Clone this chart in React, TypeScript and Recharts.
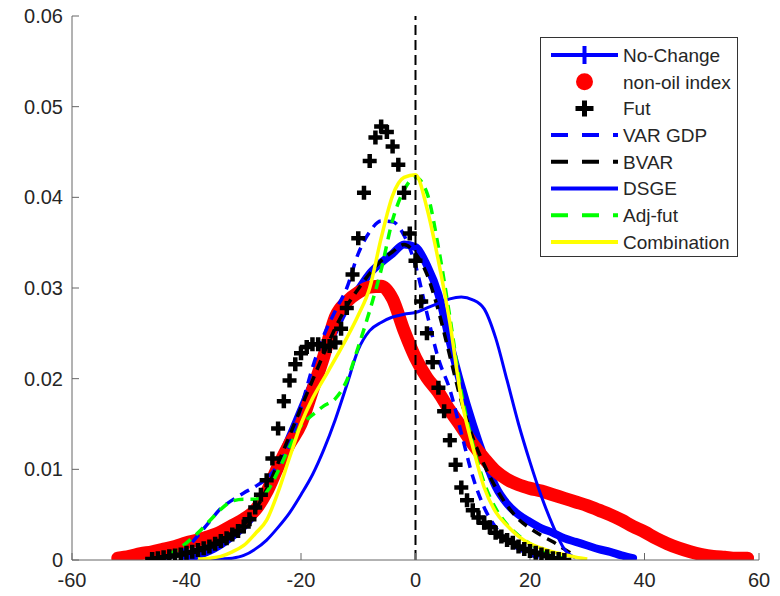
import { LineChart, Line, XAxis, YAxis, ReferenceLine, Legend } from 'recharts';

const xTicks = [-60, -40, -20, 0, 20, 40, 60];
const yTicks = [0, 0.01, 0.02, 0.03, 0.04, 0.05, 0.06];

// density estimates (x step 2 unless noted)
const noChangeStart = -40;
const noChange = [0.0002, 0.0005, 0.001, 0.0017, 0.0026, 0.0037, 0.0052, 0.0075, 0.0105, 0.0135, 0.0165, 0.0195, 0.0225, 0.0255, 0.028, 0.0298, 0.0316, 0.0328, 0.0338, 0.0348, 0.0345, 0.0325, 0.0293, 0.024, 0.0192, 0.015, 0.0113, 0.0081, 0.0062, 0.005, 0.0042, 0.0035, 0.003, 0.0024, 0.002, 0.0016, 0.0012, 0.0009, 0.0005, 0.0002];

const nonOilStart = -52;
const nonOil = [0.0002, 0.0004, 0.0007, 0.0009, 0.0012, 0.0015, 0.0019, 0.0022, 0.0026, 0.0031, 0.0038, 0.0045, 0.0055, 0.0075, 0.0103, 0.0128, 0.015, 0.0187, 0.0225, 0.0268, 0.0285, 0.0295, 0.0301, 0.0302, 0.0288, 0.0253, 0.0223, 0.0201, 0.0185, 0.0165, 0.0147, 0.0128, 0.0112, 0.0098, 0.0089, 0.0083, 0.0079, 0.0076, 0.0072, 0.0068, 0.0064, 0.006, 0.0055, 0.005, 0.0044, 0.0037, 0.0031, 0.0024, 0.0018, 0.0013, 0.0009, 0.0006, 0.0004, 0.0003, 0.0002, 0.0002];

// Fut is plotted with markers only, x step 1
const futStart = -46;
const fut = [0.0001, 0.0002, 0.0003, 0.0004, 0.0005, 0.0006, 0.0008, 0.0009, 0.0011, 0.0013, 0.0015, 0.0018, 0.0021, 0.0024, 0.0028, 0.0032, 0.0037, 0.0045, 0.0058, 0.0072, 0.0088, 0.0112, 0.0145, 0.0175, 0.0198, 0.0216, 0.0228, 0.0235, 0.0238, 0.0238, 0.0236, 0.0236, 0.024, 0.0255, 0.0278, 0.0315, 0.0355, 0.0405, 0.044, 0.0466, 0.0478, 0.0472, 0.0456, 0.0436, 0.0405, 0.036, 0.033, 0.0285, 0.025, 0.0218, 0.019, 0.0164, 0.0132, 0.0105, 0.008, 0.0066, 0.0055, 0.0047, 0.0041, 0.0036, 0.003, 0.0026, 0.0022, 0.0019, 0.0015, 0.0012, 0.001, 0.0008, 0.0006, 0.0004, 0.0002, 0.0001, 0];

const varGdpStart = -44;
const varGdp = [0.0001, 0.0005, 0.0013, 0.0027, 0.0042, 0.0057, 0.0066, 0.0074, 0.0081, 0.009, 0.0105, 0.0128, 0.0168, 0.0212, 0.0248, 0.0275, 0.03, 0.0338, 0.0362, 0.0374, 0.0373, 0.0358, 0.0325, 0.0272, 0.0222, 0.0188, 0.014, 0.0092, 0.0058, 0.0036, 0.0021, 0.0012, 0.0006, 0.0002, 0];

const bvarStart = -46;
const bvar = [0.0001, 0.0002, 0.0004, 0.0007, 0.001, 0.0014, 0.002, 0.0028, 0.0039, 0.0055, 0.0078, 0.0107, 0.0137, 0.0168, 0.0198, 0.0228, 0.0256, 0.028, 0.0299, 0.0316, 0.033, 0.034, 0.0348, 0.0338, 0.0315, 0.0275, 0.0225, 0.0175, 0.0135, 0.0105, 0.008, 0.006, 0.0045, 0.0035, 0.0027, 0.002, 0.0012, 0.0004];

const dsgeStart = -36;
const dsge = [0, 0.0001, 0.0002, 0.0005, 0.0012, 0.0022, 0.0036, 0.0052, 0.0072, 0.0094, 0.0122, 0.0155, 0.0193, 0.0232, 0.0253, 0.0262, 0.0268, 0.0271, 0.0273, 0.0278, 0.0283, 0.0288, 0.029, 0.0287, 0.0277, 0.0245, 0.0198, 0.015, 0.0108, 0.007, 0.0038, 0.0012, 0.0002];

const adjFutStart = -46;
const adjFut = [0.0001, 0.0004, 0.001, 0.0019, 0.003, 0.0043, 0.0056, 0.0065, 0.0067, 0.0067, 0.0075, 0.0098, 0.0125, 0.0148, 0.016, 0.017, 0.0178, 0.0198, 0.0235, 0.0275, 0.032, 0.0375, 0.0408, 0.0422, 0.0405, 0.0345, 0.0268, 0.0185, 0.0128, 0.0085, 0.0057, 0.0039, 0.0027, 0.0018, 0.0011, 0.0006, 0.0002];

const combinationStart = -38;
const combination = [0.0001, 0.0002, 0.0004, 0.0009, 0.0016, 0.0029, 0.0044, 0.0075, 0.0113, 0.015, 0.0178, 0.02, 0.0222, 0.0245, 0.027, 0.03, 0.0355, 0.0402, 0.0422, 0.0425, 0.0388, 0.033, 0.0262, 0.0178, 0.0125, 0.008, 0.0053, 0.0038, 0.0026, 0.0018, 0.0013, 0.0009, 0.0006, 0.0003, 0.0001];

const legendNames = ['No-Change', 'non-oil index', 'Fut', 'VAR GDP', 'BVAR', 'DSGE', 'Adj-fut', 'Combination'];

function toPoints(start: number, step: number, ys: number[]) {
  return ys.map((y, i) => ({ x: start + i * step, y }));
}

const FONT = '"Liberation Sans", Arial, sans-serif';
const TEXT = '#262626';
const AXIS = '#666666';

function PlusDot(props: any) {
  const { cx, cy } = props;
  if (cx == null || cy == null) return null;
  return (
    <path
      d={`M${cx - 7},${cy}H${cx + 7}M${cx},${cy - 7}V${cy + 7}`}
      stroke="#000"
      strokeWidth={4.5}
      fill="none"
    />
  );
}

function LegendBox() {
  const w = 198;
  const h = 220;
  const rowY = (i: number) => 18 + i * 26.7;
  const x1 = 11;
  const x2 = 78;
  const mid = (x1 + x2) / 2;
  return (
    <svg width={w} height={h} style={{ display: 'block' }}>
      <rect x={0.5} y={0.5} width={w - 1} height={h - 1} fill="#fff" stroke="#333" strokeWidth={1} />
      {/* No-Change */}
      <line x1={x1} x2={x2} y1={rowY(0)} y2={rowY(0)} stroke="#0000ff" strokeWidth={4} />
      <path d={`M${mid - 9},${rowY(0)}H${mid + 9}M${mid},${rowY(0) - 9}V${rowY(0) + 9}`} stroke="#0000ff" strokeWidth={4} />
      {/* non-oil index */}
      <circle cx={mid} cy={rowY(1)} r={8.5} fill="#ff0000" />
      {/* Fut */}
      <path d={`M${mid - 9},${rowY(2)}H${mid + 9}M${mid},${rowY(2) - 8}V${rowY(2) + 8}`} stroke="#000" strokeWidth={5} />
      {/* VAR GDP */}
      <line x1={x1} x2={x2} y1={rowY(3)} y2={rowY(3)} stroke="#0000ff" strokeWidth={4} strokeDasharray="17 14" />
      {/* BVAR */}
      <line x1={x1} x2={x2} y1={rowY(4)} y2={rowY(4)} stroke="#000" strokeWidth={4} strokeDasharray="17 14" />
      {/* DSGE */}
      <line x1={x1} x2={x2} y1={rowY(5)} y2={rowY(5)} stroke="#0000ff" strokeWidth={4} />
      {/* Adj-fut */}
      <line x1={x1} x2={x2} y1={rowY(6)} y2={rowY(6)} stroke="#00ff00" strokeWidth={4} strokeDasharray="17 14" />
      {/* Combination */}
      <line x1={x1} x2={x2} y1={rowY(7)} y2={rowY(7)} stroke="#ffff00" strokeWidth={4} />
      {legendNames.map((name, i) => (
        <text key={name} x={83} y={rowY(i)} dy="0.36em" fontSize={19} fontFamily={FONT} fill={TEXT}>
          {name}
        </text>
      ))}
    </svg>
  );
}

export default function App() {
  const axisTick = { fontSize: 20, fill: TEXT, fontFamily: FONT };
  const fmtY = (v: number) => (v === 0 ? '0' : v.toFixed(2));
  const combPts = toPoints(combinationStart, 2, combination);

  return (
    <div style={{ position: 'absolute', left: 0, top: 0, width: 780, height: 596, background: '#fff' }}>
      <LineChart width={780} height={596} margin={{ top: 16, right: 21, bottom: 0, left: 0 }}>
        <XAxis
          type="number"
          dataKey="x"
          domain={[-60, 60]}
          ticks={xTicks}
          interval={0}
          allowDataOverflow
          height={36}
          stroke={AXIS}
          tickSize={-7}
          tickMargin={20}
          tick={axisTick}
        />
        <XAxis
          xAxisId="top"
          orientation="top"
          type="number"
          dataKey="x"
          domain={[-60, 60]}
          ticks={xTicks}
          interval={0}
          allowDataOverflow
          height={0}
          stroke={AXIS}
          tickSize={-7}
          tickFormatter={() => ''}
        />
        <YAxis
          type="number"
          domain={[0, 0.06]}
          ticks={yTicks}
          interval={0}
          allowDataOverflow
          width={72}
          stroke={AXIS}
          tickSize={-7}
          tickMargin={16}
          tick={axisTick}
          tickFormatter={fmtY}
        />
        <YAxis
          yAxisId="right"
          orientation="right"
          type="number"
          domain={[0, 0.06]}
          ticks={yTicks}
          interval={0}
          allowDataOverflow
          width={0}
          stroke={AXIS}
          tickSize={-7}
          tickFormatter={() => ''}
        />
        <Legend layout="vertical" align="center" verticalAlign="middle" content={() => <LegendBox />}
          wrapperStyle={{ position: 'absolute', left: 540, top: 37, width: 198, height: 220 }} />

        <Line xAxisId="top" yAxisId="right" data={combPts} dataKey="y" stroke="none" dot={false} activeDot={false} legendType="none" isAnimationActive={false} />

        <Line data={toPoints(noChangeStart, 2, noChange)} dataKey="y" type="monotone" stroke="#0000ff" strokeWidth={8} strokeLinecap="round" dot={false} activeDot={false} isAnimationActive={false} />
        <Line data={toPoints(nonOilStart, 2, nonOil)} dataKey="y" type="monotone" stroke="#ff0000" strokeWidth={13} strokeLinecap="round" strokeLinejoin="round" dot={false} activeDot={false} isAnimationActive={false} />
        <Line data={toPoints(futStart, 1, fut)} dataKey="y" stroke="none" dot={(p: any) => <PlusDot key={`f${p.index}`} {...p} />} activeDot={false} isAnimationActive={false} />
        <Line data={toPoints(varGdpStart, 2, varGdp)} dataKey="y" type="monotone" stroke="#0000ff" strokeWidth={3.5} strokeDasharray="10 7" dot={false} activeDot={false} isAnimationActive={false} />
        <Line data={toPoints(bvarStart, 2, bvar)} dataKey="y" type="monotone" stroke="#000" strokeWidth={3.5} strokeDasharray="10 7" dot={false} activeDot={false} isAnimationActive={false} />
        <Line data={toPoints(dsgeStart, 2, dsge)} dataKey="y" type="monotone" stroke="#0000ff" strokeWidth={3} dot={false} activeDot={false} isAnimationActive={false} />
        <Line data={toPoints(adjFutStart, 2, adjFut)} dataKey="y" type="monotone" stroke="#00ff00" strokeWidth={3.5} strokeDasharray="10 7" dot={false} activeDot={false} isAnimationActive={false} />
        <Line data={combPts} dataKey="y" type="monotone" stroke="#ffff00" strokeWidth={3.5} dot={false} activeDot={false} isAnimationActive={false} />

        <ReferenceLine x={0} stroke="#000" strokeWidth={2} strokeDasharray="10 5" />
      </LineChart>
    </div>
  );
}
